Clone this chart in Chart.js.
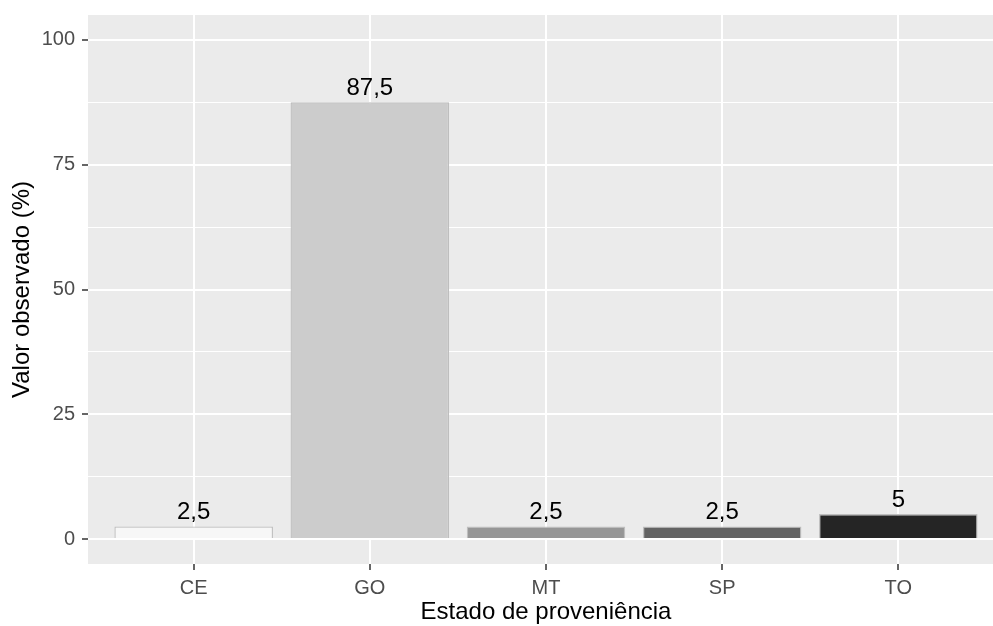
<!DOCTYPE html>
<html>
<head>
<meta charset="utf-8">
<script src="https://cdn.jsdelivr.net/npm/chart.js@4.4.1/dist/chart.umd.min.js"></script>
<style>
  html, body { margin: 0; padding: 0; background: #ffffff; overflow: hidden; }
  #wrap { width: 1004px; height: 626px; position: relative; }
  canvas { display: block; }
</style>
</head>
<body>
<div id="wrap"><canvas id="c" width="1004" height="626"></canvas></div>
<script>
// ---- data ----
const categories = ["CE", "GO", "MT", "SP", "TO"];
const values = [2.5, 87.5, 2.5, 2.5, 5];
const barColors = ["#F7F7F7", "#CCCCCC", "#969696", "#636363", "#252525"];
const yMajorTicks = [0, 25, 50, 75, 100];
const yMinorTicks = [12.5, 37.5, 62.5, 87.5];
const xTitle = "Estado de proveniência";
const yTitle = "Valor observado (%)";

const FONT = "'Liberation Sans', Arial, sans-serif";

const panelBg = {
  id: 'panelBg',
  beforeDraw(chart) {
    const {ctx, chartArea: a} = chart;
    ctx.save();
    ctx.fillStyle = '#EBEBEB';
    ctx.fillRect(a.left, a.top, a.right - a.left, a.bottom - a.top);
    ctx.restore();
  }
};

const valueLabels = {
  id: 'valueLabels',
  afterDatasetsDraw(chart) {
    const {ctx} = chart;
    const meta = chart.getDatasetMeta(0);
    ctx.save();
    ctx.font = "24px " + FONT;
    ctx.fillStyle = '#000000';
    ctx.textAlign = 'center';
    ctx.textBaseline = 'alphabetic';
    meta.data.forEach((bar, i) => {
      const txt = String(values[i]).replace('.', ',');
      ctx.fillText(txt, bar.x, bar.y - 7.5);
    });
    ctx.restore();
  }
};

const allYTicks = yMajorTicks.concat(yMinorTicks).sort((a, b) => a - b);
const isMajor = v => yMajorTicks.indexOf(v) !== -1;

new Chart(document.getElementById('c'), {
  type: 'bar',
  data: {
    datasets: [{
      data: categories.map((c, i) => ({x: i + 1, y: values[i]})),
      backgroundColor: barColors,
      borderColor: '#BEBEBE',
      borderWidth: 1.3,
      barPercentage: 0.9,
      categoryPercentage: 1.0
    }]
  },
  options: {
    responsive: false,
    animation: false,
    devicePixelRatio: 1,
    layout: { padding: { top: 15, left: 0, right: 0, bottom: 0 } },
    plugins: { legend: { display: false }, tooltip: { enabled: false } },
    scales: {
      x: {
        type: 'linear',
        min: 0.4,
        max: 5.6,
        offset: false,
        afterBuildTicks: s => { s.ticks = categories.map((c, i) => ({value: i + 1})); },
        afterFit: s => { s.height = 62; s.paddingLeft = 0; s.paddingRight = 0; },
        ticks: {
          autoSkip: false,
          maxRotation: 0,
          padding: 6.5,
          color: '#4D4D4D',
          font: { family: FONT, size: 20 },
          callback: v => categories[v - 1]
        },
        grid: {
          offset: false,
          color: '#FFFFFF',
          lineWidth: 2,
          tickColor: '#333333',
          tickLength: 6,
          tickWidth: 1.5
        },
        border: { display: false },
        title: {
          display: true,
          text: xTitle,
          color: '#000000',
          font: { family: FONT, size: 24, lineHeight: 1.1 },
          padding: 0
        }
      },
      y: {
        min: -5,
        max: 105,
        afterBuildTicks: s => { s.ticks = allYTicks.map(v => ({value: v})); },
        afterFit: s => { s.width = 88; s.paddingTop = 0; s.paddingBottom = 0; },
        ticks: {
          autoSkip: false,
          padding: 7,
          color: '#4D4D4D',
          font: { family: FONT, size: 20 },
          callback: v => isMajor(v) ? String(v) : ''
        },
        grid: {
          color: '#FFFFFF',
          lineWidth: c => (c.tick && isMajor(c.tick.value)) ? 2 : 1,
          tickColor: c => (c.tick && isMajor(c.tick.value)) ? '#333333' : 'rgba(0,0,0,0)',
          tickLength: 6,
          tickWidth: 1.5
        },
        border: { display: false },
        title: {
          display: true,
          text: yTitle,
          color: '#000000',
          font: { family: FONT, size: 24, lineHeight: 1.1 },
          padding: { top: 9, bottom: 0 }
        }
      }
    }
  },
  plugins: [panelBg, valueLabels]
});
</script>
</body>
</html>
